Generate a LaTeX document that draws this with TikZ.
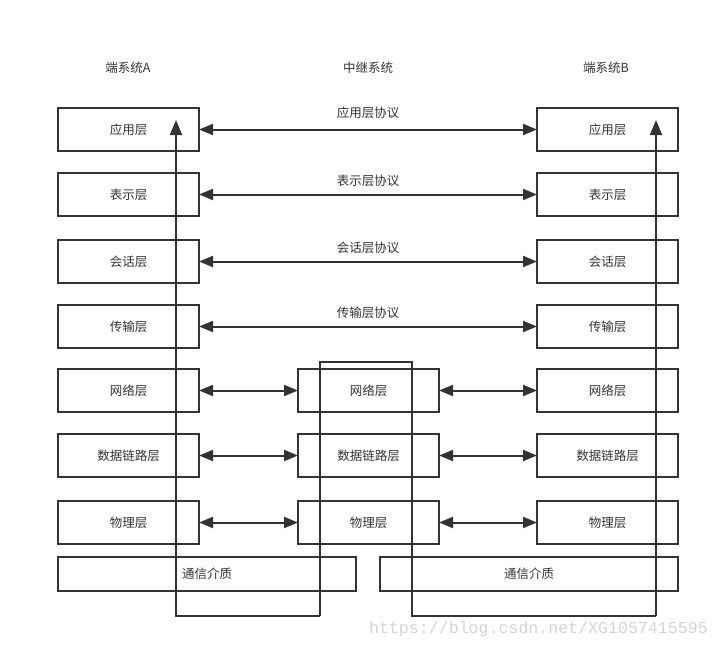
\documentclass[tikz,border=0pt]{standalone}
\usepackage{fontspec}
\newfontfamily\cjk{Noto Sans CJK SC}
\newfontfamily\wmfont{Liberation Mono}
\usetikzlibrary{arrows.meta}
\definecolor{ink}{HTML}{333333}
\definecolor{wm}{HTML}{D4D4D4}
\tikzset{
  layer/.style={draw=ink, line width=2pt, minimum width=141pt, minimum height=43pt, inner sep=0pt, outer sep=0pt, font=\cjk\fontsize{12.5}{14}\selectfont, text=ink},
  medium/.style={draw=ink, line width=2pt, minimum width=298pt, minimum height=34pt, inner sep=0pt, outer sep=0pt, font=\cjk\fontsize{12.5}{14}\selectfont, text=ink},
  lbl/.style={font=\cjk\fontsize{12.5}{14}\selectfont, text=ink, inner sep=0pt},
  biarrow/.style={draw=ink, line width=2pt, {Triangle[length=14pt,width=11pt]}-{Triangle[length=14pt,width=11pt]}},
  uparrow/.style={draw=ink, line width=2pt, -{Triangle[length=15pt,width=12pt]}},
}
\begin{document}
\begin{tikzpicture}[x=1pt,y=-1pt]
\useasboundingbox (0,0) rectangle (719,649);
% headers
\node[lbl] (hA) at (128,68) {端系统A};
\node[lbl] (hM) at (368,68) {中继系统};
\node[lbl] (hB) at (606,68) {端系统B};
% left column
\node[layer] (LA) at (128.5,129.5) {应用层};
\node[layer] (LP) at (128.5,194.5) {表示层};
\node[layer] (LS) at (128.5,261.5) {会话层};
\node[layer] (LT) at (128.5,326.5) {传输层};
\node[layer] (LN) at (128.5,390.5) {网络层};
\node[layer] (LD) at (128.5,455.5) {数据链路层};
\node[layer] (LH) at (128.5,522.5) {物理层};
% middle column
\node[layer] (MN) at (368.5,390.5) {网络层};
\node[layer] (MD) at (368.5,455.5) {数据链路层};
\node[layer] (MH) at (368.5,522.5) {物理层};
% right column
\node[layer] (RA) at (607.5,129.5) {应用层};
\node[layer] (RP) at (607.5,194.5) {表示层};
\node[layer] (RS) at (607.5,261.5) {会话层};
\node[layer] (RT) at (607.5,326.5) {传输层};
\node[layer] (RN) at (607.5,390.5) {网络层};
\node[layer] (RD) at (607.5,455.5) {数据链路层};
\node[layer] (RH) at (607.5,522.5) {物理层};
% media
\node[medium] (ML) at (207,574) {通信介质};
\node[medium] (MR) at (529,574) {通信介质};
% protocol arrows
\draw[biarrow] (LA.east) -- node[lbl, above=10pt] (pA) {应用层协议} (RA.west);
\draw[biarrow] (LP.east) -- node[lbl, above=7pt] (pP) {表示层协议} (RP.west);
\draw[biarrow] (LS.east) -- node[lbl, above=7pt] (pS) {会话层协议} (RS.west);
\draw[biarrow] (LT.east) -- node[lbl, above=7pt] (pT) {传输层协议} (RT.west);
% short arrows
\draw[biarrow] (LN.east) -- (MN.west);
\draw[biarrow] (LD.east) -- (MD.west);
\draw[biarrow] (LH.east) -- (MH.west);
\draw[biarrow] (MN.east) -- (RN.west);
\draw[biarrow] (MD.east) -- (RD.west);
\draw[biarrow] (MH.east) -- (RH.west);
% data path
\coordinate (a0) at (176,616);
\coordinate (a1) at (176,120);
\coordinate (m0) at (320,616);
\coordinate (m1) at (320,362);
\coordinate (m2) at (412,362);
\coordinate (m3) at (412,616);
\coordinate (b0) at (656,616);
\coordinate (b1) at (656,120);
\draw[uparrow] (m0) -- (a0) -- (a1);
\draw[draw=ink, line width=2pt] (m0) -- (m1) -- (m2) -- (m3) -- (b0);
\draw[uparrow] (b0) -- (b1);
% watermark
\node[font=\wmfont\fontsize{16.6}{18}\selectfont, text=wm, inner sep=0pt, anchor=east] (wmk) at (708,629) {https://blog.csdn.net/XG1057415595};
\end{tikzpicture}
\end{document}
